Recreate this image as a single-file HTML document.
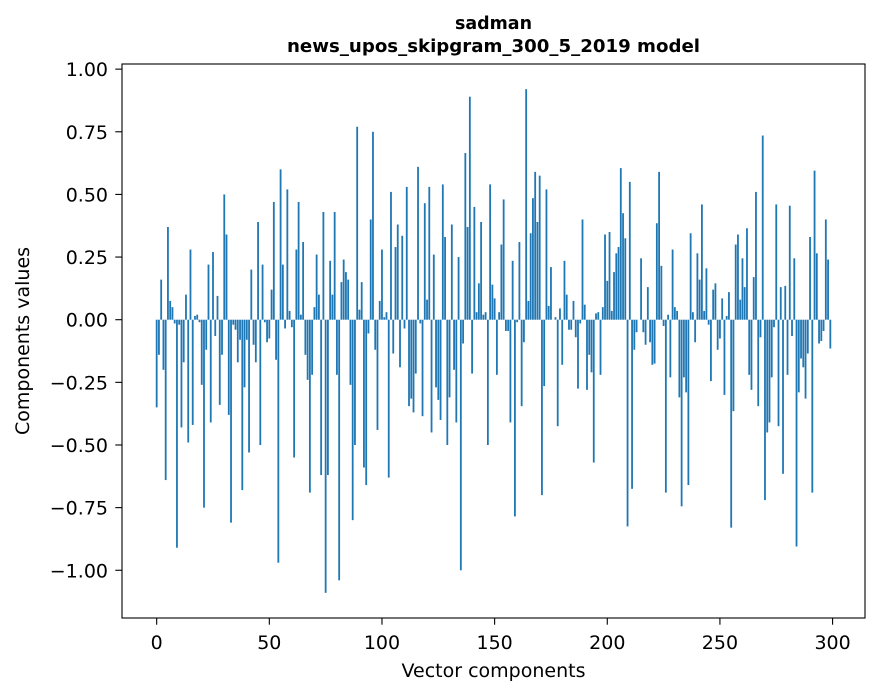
<!DOCTYPE html>
<html><head><meta charset="utf-8"><style>
body{margin:0;background:#fff;font-family:"DejaVu Sans","Liberation Sans",sans-serif}
</style></head><body>
<svg id="chart" width="880" height="696" xmlns="http://www.w3.org/2000/svg" style="display:block;font-family:'DejaVu Sans','Liberation Sans',sans-serif">
<rect width="880" height="696" fill="#fff"/>
<text x="493.5" y="29" text-anchor="middle" font-weight="bold" font-size="17.5" textLength="77" lengthAdjust="spacingAndGlyphs">sadman</text>
<text x="493.5" y="52" text-anchor="middle" font-weight="bold" font-size="17.5" textLength="413" lengthAdjust="spacingAndGlyphs">news_upos_skipgram_300_5_2019 model</text>
<g id="bars"></g>
<g id="xticks"></g>
<g id="yticks"></g>
<rect x="122" y="64" width="743" height="554" fill="none" stroke="#000" stroke-width="1.1"/>
<text x="493.5" y="677" text-anchor="middle" font-size="19">Vector components</text>
<text transform="translate(29,341) rotate(-90)" text-anchor="middle" font-size="19">Components values</text>
</svg>
<script>
const values = [
-0.35,-0.14,0.16,-0.20,-0.64,0.37,0.075,0.05,-0.015,-0.91,-0.02,-0.43,-0.17,0.10,-0.49,0.28,-0.42,0.015,0.02,-0.01,
-0.26,-0.75,-0.12,0.22,-0.41,0.27,-0.065,0.095,-0.34,-0.14,0.50,0.34,-0.38,-0.81,-0.02,-0.04,-0.17,-0.08,-0.68,-0.27,
-0.08,-0.53,0.20,-0.10,-0.17,0.39,-0.50,0.22,-0.01,-0.09,-0.075,
0.12,0.47,-0.16,-0.97,0.60,0.22,-0.035,0.52,0.035,-0.03,-0.55,0.28,0.47,0.02,0.31,-0.14,-0.24,-0.69,-0.22,
0.05,0.26,0.10,-0.62,0.43,-1.09,-0.62,0.235,0.10,0.43,-0.22,-1.04,0.15,0.24,0.19,0.16,-0.26,-0.80,-0.50,0.77,
0.04,0.15,-0.59,-0.66,-0.055,0.40,0.75,-0.12,-0.44,0.075,0.28,0.01,
0.03,-0.63,0.51,-0.135,0.29,0.38,-0.19,0.335,-0.035,0.53,-0.345,-0.315,-0.37,-0.215,0.61,-0.015,-0.385,0.465,
0.08,0.53,-0.45,0.26,-0.27,-0.32,-0.40,0.54,0.33,-0.50,-0.31,0.38,-0.20,-0.41,0.25,-1.00,-0.095,0.665,0.37,0.89,
-0.215,0.45,0.03,0.145,0.39,0.02,0.03,-0.50,0.54,0.14,0.085,-0.22,0.03,
0.30,0.48,-0.045,-0.045,-0.41,0.235,-0.785,-0.01,0.31,-0.345,-0.09,0.92,0.075,0.345,0.485,0.59,0.39,0.575,-0.70,
-0.265,0.52,0.055,0.21,0,0.01,-0.425,0.045,-0.18,0.235,0.10,-0.04,-0.04,0.075,-0.07,-0.275,-0.015,0.40,0.06,-0.28,
-0.14,-0.21,-0.57,0.025,0.03,-0.22,0.05,0.34,0.155,0.35,0.035,0.19,
0.265,0.29,0.605,0.425,0.325,-0.825,0.55,-0.675,-0.12,-0.05,0,0.245,-0.05,-0.10,0.13,-0.09,-0.18,-0.175,0.385,0.59,
0.215,-0.025,-0.69,0.02,-0.23,0.28,0.05,0.035,-0.31,-0.745,-0.23,-0.29,-0.66,0.345,0.03,-0.09,0.265,0.16,0.46,0.035,
0.205,-0.02,-0.245,0.12,0.145,-0.12,-0.075,0.085,-0.30,0.015,0.11,
-0.83,-0.365,0.30,0.34,0.08,0.245,0.13,0.365,-0.22,-0.28,0.17,0.51,-0.345,-0.07,0.735,-0.72,-0.45,-0.41,-0.23,-0.03,
0.46,-0.425,0.13,-0.615,0.135,-0.22,0.455,-0.065,0.245,-0.905,-0.29,-0.155,-0.19,-0.315,-0.135,0.33,-0.69,0.595,0.265,-0.095,
-0.085,-0.045,0.40,0.24,-0.115
];
const xTickValues = [0,50,100,150,200,250,300];
const yTickValues = [-1.00,-0.75,-0.50,-0.25,0.00,0.25,0.50,0.75,1.00];

const L=122,R=865,T=64,B=618;
const n=values.length;
const xmin=-0.4-0.05*(n-0.2), xmax=(n-1)+0.4+0.05*(n-0.2);
const vmin=Math.min(0,...values), vmax=Math.max(0,...values);
const ymin=vmin-0.05*(vmax-vmin), ymax=vmax+0.05*(vmax-vmin);
const sx=v=>L+(v-xmin)/(xmax-xmin)*(R-L);
const sy=v=>T+(ymax-v)/(ymax-ymin)*(B-T);
const NS="http://www.w3.org/2000/svg";
const gb=document.getElementById('bars');
values.forEach((v,i)=>{
  const r=document.createElementNS(NS,'rect');
  const x0=sx(i-0.4), x1=sx(i+0.4);
  const y0=sy(Math.max(v,0)), y1=sy(Math.min(v,0));
  r.setAttribute('x',x0);r.setAttribute('width',x1-x0);
  r.setAttribute('y',y0);r.setAttribute('height',Math.max(y1-y0,0));
  r.setAttribute('fill','#1f77b4');
  
  
  gb.appendChild(r);
});
const gx=document.getElementById('xticks');
xTickValues.forEach(t=>{
  const x=sx(t);
  const l=document.createElementNS(NS,'line');
  l.setAttribute('x1',x);l.setAttribute('x2',x);l.setAttribute('y1',B);l.setAttribute('y2',B+6.7);
  l.setAttribute('stroke','#000');l.setAttribute('stroke-width','1.1');
  
  
  gx.appendChild(l);
  const tx=document.createElementNS(NS,'text');
  tx.setAttribute('x',x);tx.setAttribute('y',B+31);tx.setAttribute('text-anchor','middle');tx.setAttribute('font-size','19');
  tx.textContent=t;
  
  
  gx.appendChild(tx);
});
const gy=document.getElementById('yticks');
yTickValues.forEach(t=>{
  const y=sy(t);
  const l=document.createElementNS(NS,'line');
  l.setAttribute('x1',L-6.7);l.setAttribute('x2',L);l.setAttribute('y1',y);l.setAttribute('y2',y);
  l.setAttribute('stroke','#000');l.setAttribute('stroke-width','1.1');
  
  
  gy.appendChild(l);
  const tx=document.createElementNS(NS,'text');
  tx.setAttribute('x',L-14);tx.setAttribute('y',y+7);tx.setAttribute('text-anchor','end');tx.setAttribute('font-size','19');
  tx.textContent=(t<0?'\u2212':'')+Math.abs(t).toFixed(2);
  
  
  gy.appendChild(tx);
});
</script>
</body></html>
